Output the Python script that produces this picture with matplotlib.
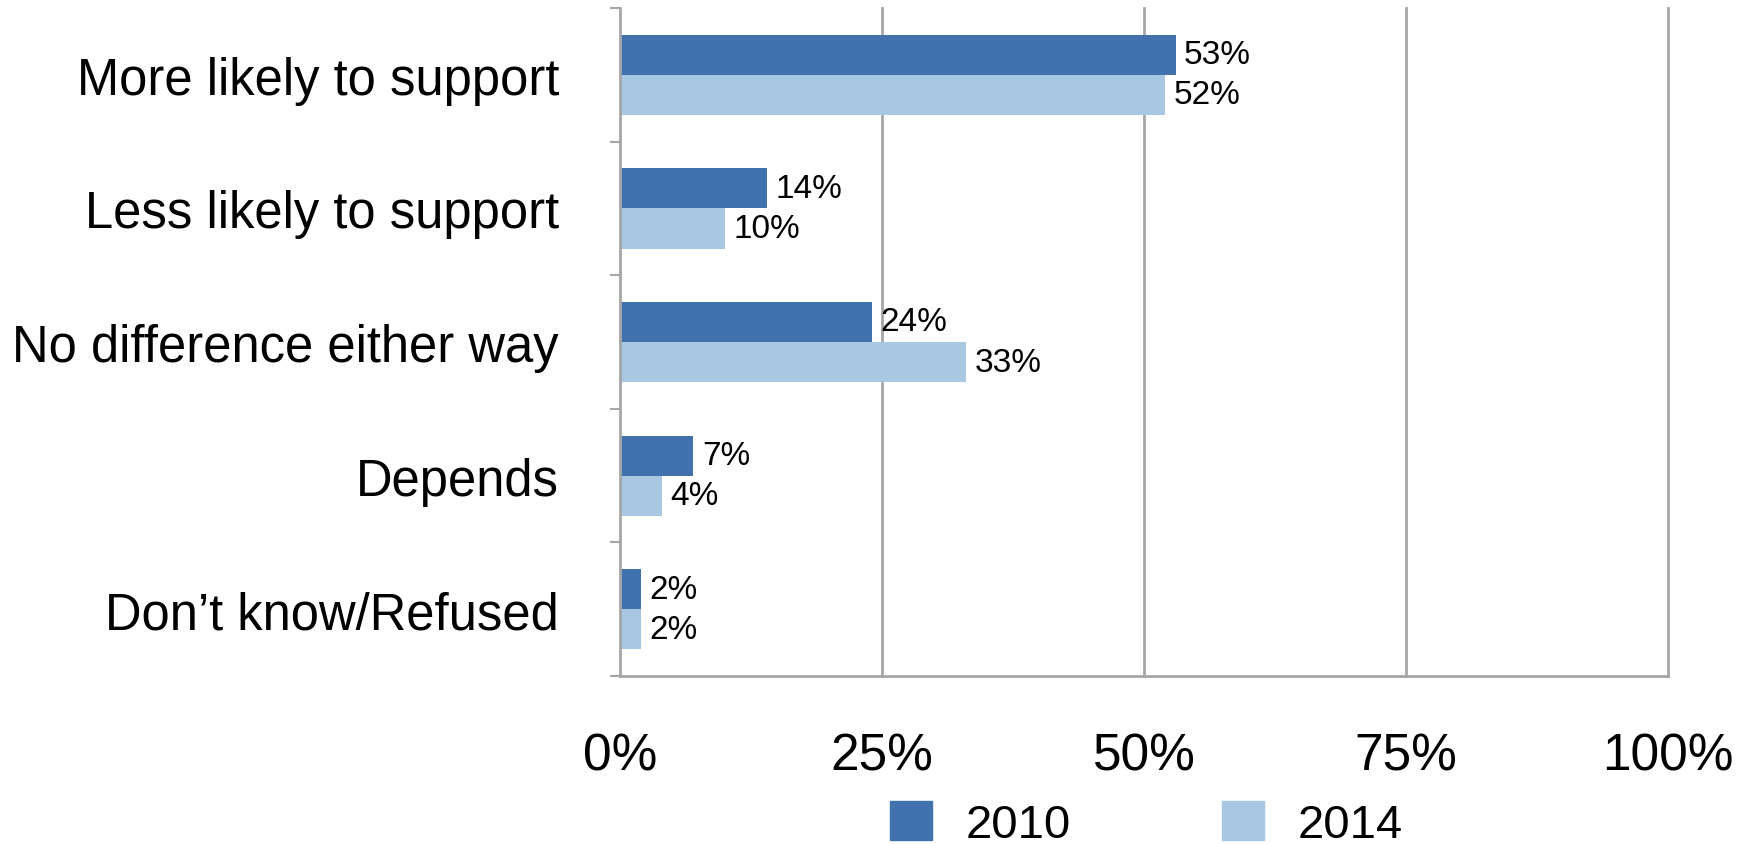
import matplotlib.pyplot as plt
import numpy as np
from matplotlib.patches import Patch

categories = ["More likely to support", "Less likely to support",
              "No difference either way", "Depends", "Don\u2019t know/Refused"]
values_2010 = [53, 14, 24, 7, 2]
values_2014 = [52, 10, 33, 4, 2]
series_names = ["2010", "2014"]
x_ticks = [0, 25, 50, 75, 100]

plt.rcParams['font.family'] = ['Liberation Sans', 'DejaVu Sans']

dark = '#4272ad'
light = '#a7c7e2'
grid_c = '#a6a6a6'

fig = plt.figure(figsize=(17.5, 8.45), dpi=100)
ax = fig.add_axes([0.3543, 0.1988, 0.599, 0.7905])

y = np.arange(len(categories))
h = 0.3
ax.barh(y - h / 2, values_2010, height=h, color=dark)
ax.barh(y + h / 2, values_2014, height=h, color=light)

# data labels just past the bar ends
for yi, v in zip(y, values_2010):
    ax.text(v + 0.8, yi - h / 2, f"{v}%", va='center', ha='left', fontsize=24)
for yi, v in zip(y, values_2014):
    ax.text(v + 0.8, yi + h / 2, f"{v}%", va='center', ha='left', fontsize=24)

ax.set_xlim(0, 100)
ax.set_ylim(len(categories) - 0.5, -0.5)
ax.set_xticks(x_ticks)
ax.set_xticklabels([f"{t}%" for t in x_ticks], fontsize=37)
ax.tick_params(axis='x', length=0, pad=40)
for t in x_ticks[1:]:
    ax.axvline(t, color=grid_c, lw=2, zorder=0, clip_on=False)

# ticks between categories, labels at the centres
ax.set_yticks(np.arange(-0.5, len(categories), 1))
ax.set_yticklabels([])
ax.set_yticks(y, minor=True)
ax.set_yticklabels(categories, minor=True, fontsize=36.5)
ax.tick_params(axis='y', which='major', length=7, color=grid_c, width=1.5)
ax.tick_params(axis='y', which='minor', length=0, pad=44)

for s in ['top', 'right']:
    ax.spines[s].set_visible(False)
for s in ['left', 'bottom']:
    ax.spines[s].set_color(grid_c)
    ax.spines[s].set_linewidth(2)

handles = [Patch(color=dark), Patch(color=light)]
fig.legend(handles, series_names, loc='center', bbox_to_anchor=(0.655, 0.024),
           ncol=2, frameon=False, fontsize=34, handlelength=0.9, handleheight=0.9,
           columnspacing=3.2, handletextpad=0.7, borderpad=0)

fig.savefig('out.png', dpi=100)
